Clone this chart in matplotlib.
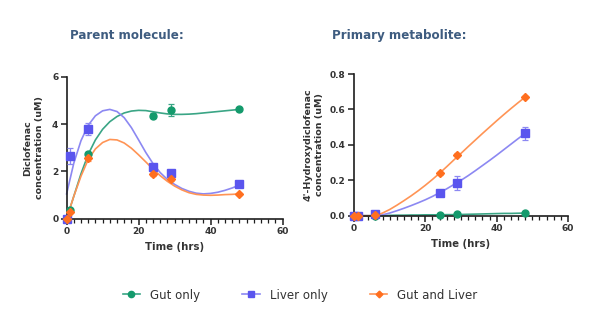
import matplotlib
matplotlib.use("Agg")
import matplotlib.pyplot as plt
from matplotlib.lines import Line2D
from matplotlib.ticker import MultipleLocator, FormatStrFormatter

plt.rcParams['font.family'] = ['DejaVu Sans']

# sampling times (hrs)
t = [0, 1, 6, 24, 29, 48]

# parent molecule, diclofenac (uM)
gut_parent = [0.0, 0.35, 2.75, 4.35, 4.6, 4.62]
gut_parent_err = [0.0, 0.05, 0.08, 0.1, 0.25, 0.05]
liver_parent = [0.0, 2.65, 3.8, 2.2, 1.95, 1.45]
liver_parent_err = [0.0, 0.35, 0.25, 0.08, 0.08, 0.06]
both_parent = [0.0, 0.3, 2.55, 1.9, 1.7, 1.05]
both_parent_err = [0.0, 0.05, 0.1, 0.08, 0.1, 0.04]

# primary metabolite, 4'-hydroxydiclofenac (uM)
gut_metab = [0.0, 0.0, 0.0, 0.005, 0.007, 0.015]
gut_metab_err = [0.0, 0.0, 0.0, 0.002, 0.002, 0.003]
liver_metab = [0.0, 0.0, 0.01, 0.13, 0.185, 0.465]
liver_metab_err = [0.0, 0.0, 0.005, 0.01, 0.04, 0.035]
both_metab = [0.0, 0.0, 0.005, 0.24, 0.345, 0.67]
both_metab_err = [0.0, 0.0, 0.002, 0.008, 0.008, 0.008]

# fitted curves, sampled every 2 hrs
fit_t = list(range(0, 50, 2))
gut_parent_fit = [0.0, 0.95, 1.9, 2.72, 3.33, 3.78, 4.1, 4.32, 4.47, 4.55, 4.58, 4.57, 4.52,
                  4.47, 4.43, 4.41, 4.41, 4.42, 4.44, 4.47, 4.5, 4.53, 4.56, 4.59, 4.62]
liver_parent_fit = [1.05, 2.35, 3.3, 3.95, 4.35, 4.56, 4.62, 4.53, 4.27, 3.85, 3.33, 2.8, 2.33,
                    1.95, 1.66, 1.45, 1.28, 1.16, 1.08, 1.05, 1.07, 1.12, 1.2, 1.3, 1.42]
both_parent_fit = [0.0, 0.95, 1.8, 2.5, 2.95, 3.22, 3.35, 3.33, 3.2, 2.98, 2.7, 2.4, 2.1,
                   1.82, 1.58, 1.38, 1.22, 1.1, 1.03, 1.0, 0.99, 1.0, 1.02, 1.03, 1.05]
gut_metab_fit = [0.0, 0.0, 0.0, 0.0, 0.001, 0.002, 0.003, 0.003, 0.004, 0.004, 0.005, 0.005, 0.005,
                 0.006, 0.006, 0.007, 0.008, 0.009, 0.01, 0.011, 0.012, 0.013, 0.013, 0.014, 0.015]
liver_metab_fit = [0.0, 0.0, 0.0, 0.0, 0.005, 0.015, 0.028, 0.042, 0.057, 0.073, 0.09, 0.109, 0.13,
                   0.152, 0.176, 0.2, 0.226, 0.254, 0.283, 0.312, 0.342, 0.373, 0.404, 0.435, 0.465]
both_metab_fit = [0.0, 0.0, 0.0, 0.0, 0.015, 0.035, 0.059, 0.085, 0.112, 0.141, 0.172, 0.205, 0.24,
                  0.277, 0.315, 0.352, 0.39, 0.427, 0.464, 0.5, 0.536, 0.571, 0.605, 0.638, 0.67]

labels = ['Gut only', 'Liver only', 'Gut and Liver']
colors = ['#149a6c', '#5a55ee', '#ff6f1f']
line_colors = ['#3aa585', '#8c88f2', '#ff9455']
markers = ['o', 's', 'D']
msizes = [5, 5.5, 3.8]

title_color = '#3e5c80'
text_color = '#333333'
axis_color = '#1e1e1e'

fig = plt.figure(figsize=(6, 3.36), dpi=100)
ax1 = fig.add_axes([0.111, 0.349, 0.36, 0.4226])
ax2 = fig.add_axes([0.59, 0.358, 0.3567, 0.4217])


def draw_panel(ax, series, errs, fits, ymax, ystep, ylabel, pad):
    for i in range(3):
        ax.plot(fit_t, fits[i], color=line_colors[i], lw=1.2, zorder=2, clip_on=False)
        ax.errorbar(t, series[i], yerr=errs[i], fmt=markers[i], color=colors[i],
                    ecolor=line_colors[i], elinewidth=0.9, capsize=2.5, capthick=0.9,
                    ms=msizes[i], mec=colors[i], zorder=3, clip_on=False)
    ax.set_xlim(0, 60)
    ax.set_ylim(0, ymax)
    ax.set_xticks(range(0, 61, 20))
    ax.set_xticks(range(0, 61, 2), minor=True)
    ax.yaxis.set_major_locator(MultipleLocator(ystep))
    ax.yaxis.set_minor_locator(matplotlib.ticker.NullLocator())
    for s in ['top', 'right']:
        ax.spines[s].set_visible(False)
    for s in ['left', 'bottom']:
        ax.spines[s].set_linewidth(1.2)
        ax.spines[s].set_color(axis_color)
    ax.tick_params(which='major', length=4, width=1.1, color=axis_color,
                   labelsize=6.5, labelcolor=text_color, pad=2)
    ax.tick_params(axis='x', which='minor', bottom=True, length=3, width=0.9,
                   color=axis_color)
    for lab in ax.get_xticklabels() + ax.get_yticklabels():
        lab.set_fontweight('bold')
    ax.set_xlabel('Time (hrs)', fontsize=7.3, fontweight='bold', color=text_color, labelpad=4)
    ax.set_ylabel(ylabel, fontsize=6.8, fontweight='bold', color=text_color,
                  labelpad=pad, linespacing=1.35)


draw_panel(ax1, [gut_parent, liver_parent, both_parent],
           [gut_parent_err, liver_parent_err, both_parent_err],
           [gut_parent_fit, liver_parent_fit, both_parent_fit],
           6, 2, 'Diclofenac\nconcentration (uM)', 6)
ax1.yaxis.set_major_formatter(FormatStrFormatter('%d'))

draw_panel(ax2, [gut_metab, liver_metab, both_metab],
           [gut_metab_err, liver_metab_err, both_metab_err],
           [gut_metab_fit, liver_metab_fit, both_metab_fit],
           0.8, 0.2, "4'-Hydroxydiclofenac\nconcentration (uM)", 4)
ax2.yaxis.set_major_formatter(FormatStrFormatter('%.1f'))

fig.text(0.117, 0.893, 'Parent molecule:', fontsize=8.6, fontweight='bold',
         color=title_color, va='center')
fig.text(0.553, 0.893, 'Primary metabolite:', fontsize=8.6, fontweight='bold',
         color=title_color, va='center')

handles = [Line2D([0], [0], color=line_colors[i], lw=1.2, marker=markers[i],
                  ms=msizes[i] * 0.9, mfc=colors[i], mec=colors[i]) for i in range(3)]
fig.legend(handles, labels, loc='center', bbox_to_anchor=(0.5, 0.122), ncol=3,
           frameon=False, fontsize=8.5, handlelength=1.45, handletextpad=0.85,
           columnspacing=3.6, labelcolor=text_color)

fig.savefig('out.png', dpi=100, facecolor='white')
